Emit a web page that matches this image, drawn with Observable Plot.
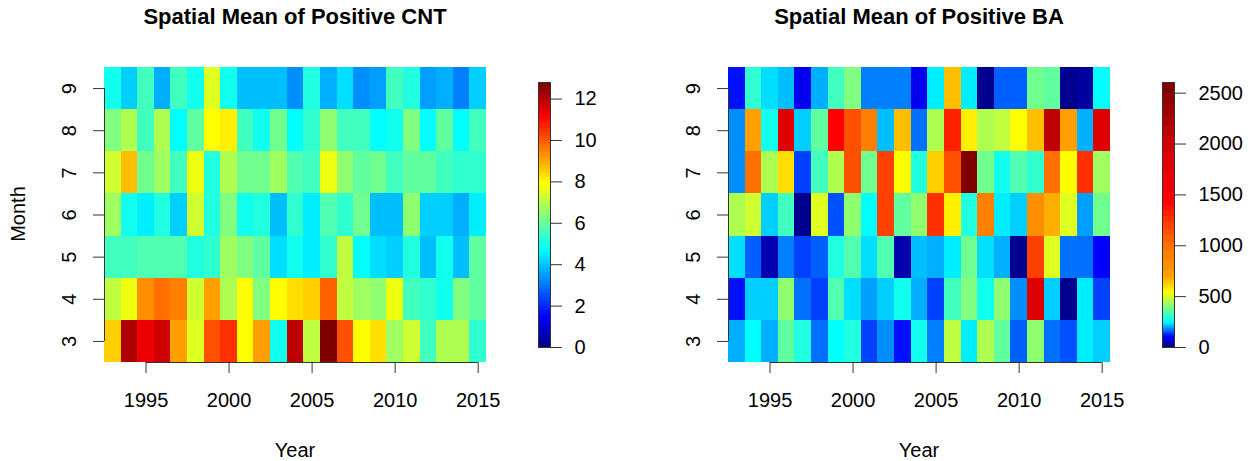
<!DOCTYPE html>
<html>
<head>
<meta charset="utf-8">
<script src="https://cdn.jsdelivr.net/npm/d3@7"></script>
<script src="https://cdn.jsdelivr.net/npm/@observablehq/plot@0.6"></script>
<style>
  html, body { margin: 0; padding: 0; background: #ffffff; }
  #root { position: relative; width: 1256px; height: 461px; background: #ffffff; font-family: "Liberation Sans", Arial, sans-serif; color: #000; overflow: hidden; }
  .abs { position: absolute; }
  .title { font-weight: bold; font-size: 22px; line-height: 22px; white-space: nowrap; transform: translateX(-50%); }
  .lab { font-size: 20px; line-height: 20px; white-space: nowrap; }
</style>
</head>
<body>
<div id="root"></div>
<script>
// ---------- categories ----------
const years = [1993,1994,1995,1996,1997,1998,1999,2000,2001,2002,2003,2004,2005,2006,2007,2008,2009,2010,2011,2012,2013,2014,2015];
const months = [3,4,5,6,7,8,9];
const yearTicks = [1995,2000,2005,2010,2015];
const cntLegendTicks = [0,2,4,6,8,10,12];
const baLegendTicks = [0,500,1000,1500,2000,2500];

// ---------- CNT: spatial mean of positive counts (rows = month, cols = years) ----------
const cntM3 = [8.5,12.1,11.3,11.7,9.1,7.5,10.1,10.5,7.9,9.1,4.9,11.9,7.1,12.7,10.1,7.9,8.3,6.7,7.3,5.5,6.9,6.9,5.3];
const cntM4 = [7.1,7.7,9.3,9.7,9.5,7.3,9.1,6.9,7.9,6.3,7.9,8.3,8.5,9.9,7.1,6.7,6.5,7.7,5.5,5.3,4.9,6.3,5.9];
const cntM5 = [5.5,5.5,5.7,5.7,5.7,5.1,5.3,6.7,6.3,5.9,4.3,4.9,4.5,5.3,7.1,4.7,4.3,4.1,5.1,3.9,4.9,3.9,5.9];
const cntM6 = [6.7,4.9,4.5,5.1,4.1,7.3,5.1,6.3,4.9,5.1,3.9,5.3,4.5,5.7,5.3,6.1,3.9,3.9,6.5,4.1,4.1,3.7,4.5];
const cntM7 = [7.3,8.7,6.1,6.7,5.5,7.7,5.1,6.9,6.1,6.1,6.7,5.7,5.5,7.7,6.5,5.9,6.1,5.5,5.9,5.9,5.5,5.3,5.3];
const cntM8 = [6.3,6.9,5.5,6.9,4.7,5.9,7.9,8.1,5.5,4.9,6.1,4.7,5.3,6.5,5.5,5.5,4.7,4.9,6.3,4.7,5.9,4.7,5.5];
const cntM9 = [4.9,4.1,5.5,3.7,5.5,4.9,7.5,4.9,3.9,3.9,3.9,3.3,5.1,3.7,4.3,3.3,3.5,5.5,5.1,3.5,3.7,3.1,4.1];

// ---------- BA: spatial mean of positive burned area ----------
const baM3 = [202,248,202,358,285,165,248,285,138,184,110,266,174,466,239,448,358,156,413,165,147,239,220];
const baM4 = [110,220,220,413,165,138,340,229,193,220,266,202,138,321,395,266,413,184,1820,220,7,239,138];
const baM5 = [229,156,34,174,138,156,285,340,229,340,34,211,202,239,377,229,202,7,1195,501,165,165,101];
const baM6 = [448,483,220,321,7,501,147,413,248,1195,358,413,1260,564,285,902,239,220,804,678,501,193,377];
const baM7 = [184,1000,448,593,138,321,448,1130,377,1195,536,285,621,1130,2551,377,266,340,303,1000,536,1260,430];
const baM8 = [184,706,266,1820,220,358,1428,1130,902,211,649,165,448,1316,564,448,466,536,649,2123,706,202,1820];
const baM9 = [110,303,229,211,88,202,321,395,174,174,174,88,239,649,239,7,156,156,377,358,7,20,248];

// ---------- colour palette (tim.colors, 64) and legend breaks ----------
const timColors = ["#00008F","#00009F","#0000AF","#0000BF","#0000CF","#0000DF","#0000EF","#0000FF",
  "#0010FF","#0020FF","#0030FF","#0040FF","#0050FF","#0060FF","#0070FF","#0080FF",
  "#008FFF","#009FFF","#00AFFF","#00BFFF","#00CFFF","#00DFFF","#00EFFF","#00FFFF",
  "#10FFEF","#20FFDF","#30FFCF","#40FFBF","#50FFAF","#60FF9F","#70FF8F","#80FF80",
  "#8FFF70","#9FFF60","#AFFF50","#BFFF40","#CFFF30","#DFFF20","#EFFF10","#FFFF00",
  "#FFEF00","#FFDF00","#FFCF00","#FFBF00","#FFAF00","#FF9F00","#FF8F00","#FF8000",
  "#FF7000","#FF6000","#FF5000","#FF4000","#FF3000","#FF2000","#FF1000","#FF0000",
  "#EF0000","#DF0000","#CF0000","#BF0000","#AF0000","#9F0000","#8F0000","#800000"];
const cntRange = [0, 12.8];
// BA legend uses uneven breaks: colour position -> value anchors
const baBreakPos = [0, 7.5, 23.5, 31.5, 39.5, 45.5, 48.5, 52.5, 55.5, 58.5, 64];
const baBreakVal = [0, 101, 248, 395, 536, 706, 1000, 1260, 1428, 2016, 2605];

// ---------- build tables ----------
function tidy(rows) {
  const out = [];
  months.forEach((m, mi) => rows[mi].forEach((v, yi) => out.push({year: years[yi], month: m, value: v})));
  return out;
}
const cntData = tidy([cntM3, cntM4, cntM5, cntM6, cntM7, cntM8, cntM9]);
const baData = tidy([baM3, baM4, baM5, baM6, baM7, baM8, baM9]);

const nCol = timColors.length;
const cntBreaks = d3.range(nCol + 1).map(k => cntRange[0] + (cntRange[1] - cntRange[0]) * k / nCol);
const baPos = d3.scaleLinear().domain(baBreakPos).range(baBreakVal);
const baBreaks = d3.range(nCol + 1).map(k => baPos(k));
function legendRows(breaks) {
  return d3.range(nCol).map(i => ({lo: breaks[i], hi: breaks[i + 1], mid: (breaks[i] + breaks[i + 1]) / 2}));
}

const FONT = "Liberation Sans, Arial, Helvetica, sans-serif";
const root = document.getElementById("root");

function place(node, left, top) {
  node.style.position = "absolute";
  node.style.left = left + "px";
  node.style.top = top + "px";
  root.appendChild(node);
}

function heatmap(data, breaks, showMonthTicks) {
  return Plot.plot({
    width: 520, height: 461,
    marginLeft: 104, marginRight: 34, marginTop: 67, marginBottom: 99,
    style: {fontFamily: FONT, fontSize: "20px", background: "transparent", overflow: "visible", color: "#000"},
    x: {domain: [years[0] - 0.5, years[years.length - 1] + 0.5], axis: null},
    y: {domain: [months[0] - 0.5, months[months.length - 1] + 0.5], axis: null},
    color: {type: "threshold", domain: breaks.slice(1, -1), range: timColors},
    marks: [
      Plot.rect(data, {
        x1: d => d.year - 0.5, x2: d => d.year + 0.5,
        y1: d => d.month - 0.5, y2: d => d.month + 0.5,
        fill: "value", shapeRendering: "crispEdges"
      }),
      Plot.ruleY([months[0] - 0.5], {x1: yearTicks[0], x2: yearTicks[yearTicks.length - 1], stroke: "#333"}),
      Plot.ruleX([years[0] - 0.5], {y1: months[0], y2: months[months.length - 1], stroke: "#333"}),
      Plot.axisX({ticks: yearTicks, tickFormat: d => String(d), tickSize: 11, tickPadding: 19,
        stroke: "#333", fill: "#000", fontSize: 20, label: null}),
      Plot.axisY({ticks: months, tickFormat: d => String(d), tickSize: 11, tickPadding: 18, tickRotate: -90,
        stroke: "#333", fill: "#000", fontSize: 20, label: null})
    ]
  });
}

function colorbar(breaks, domainMax, ticks) {
  return Plot.plot({
    width: 94, height: 461,
    marginLeft: 0, marginRight: 82, marginTop: 82, marginBottom: 114,
    style: {fontFamily: FONT, fontSize: "20px", background: "transparent", overflow: "visible", color: "#000"},
    y: {domain: [0, domainMax], axis: null},
    color: {type: "threshold", domain: breaks.slice(1, -1), range: timColors},
    marks: [
      Plot.barY(legendRows(breaks), {y1: "lo", y2: "hi", fill: "mid", shapeRendering: "crispEdges"}),
      Plot.frame({stroke: "#333", strokeWidth: 1}),
      Plot.axisY({anchor: "right", ticks: ticks, tickFormat: d => String(d), tickSize: 11, tickPadding: 13,
        stroke: "#333", fill: "#000", fontSize: 20, label: null})
    ]
  });
}

// Left panel
place(heatmap(cntData, cntBreaks, true), 0, 0);
place(colorbar(cntBreaks, cntRange[1], cntLegendTicks), 538, 0);
// Right panel
place(heatmap(baData, baBreaks, true), 624, 0);
place(colorbar(baBreaks, baBreaks[nCol], baLegendTicks), 1162, 0);

// Text: titles and axis titles
function addText(txt, cls, left, top, extraStyle) {
  const d = document.createElement("div");
  d.className = "abs " + cls;
  d.textContent = txt;
  d.style.left = left + "px";
  d.style.top = top + "px";
  if (extraStyle) Object.assign(d.style, extraStyle);
  root.appendChild(d);
  return d;
}
addText("Spatial Mean of Positive CNT", "title", 295, 6);
addText("Spatial Mean of Positive BA", "title", 919, 6);
addText("Year", "lab", 295, 440, {transform: "translateX(-50%)"});
addText("Year", "lab", 919, 440, {transform: "translateX(-50%)"});
addText("Month", "lab", 18, 214, {transform: "translate(-50%, -50%) rotate(-90deg)"});
</script>
</body>
</html>
